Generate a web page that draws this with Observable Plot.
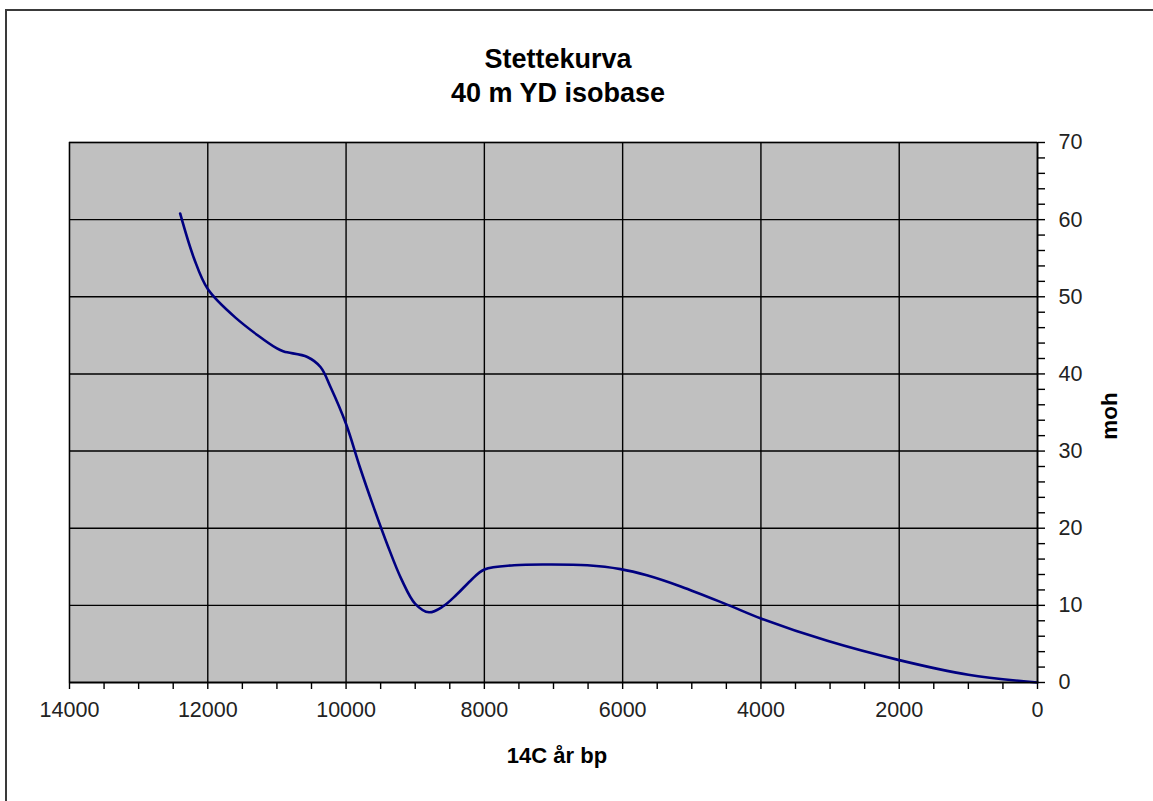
<!DOCTYPE html>
<html>
<head>
<meta charset="utf-8">
<script src="https://cdn.jsdelivr.net/npm/d3@7"></script>
<script src="https://cdn.jsdelivr.net/npm/@observablehq/plot@0.6"></script>
<style>
  html, body { margin: 0; padding: 0; background: #fff; overflow: hidden; }
  #wrap { position: relative; width: 1153px; height: 801px; }
  #border { position: absolute; left: 5px; top: 9px; width: 1300px; height: 1000px;
            border-left: 2px solid #3a3a3a; border-top: 2px solid #3a3a3a; pointer-events: none; z-index: 2; }
  #chart { position: absolute; left: 0; top: 0; z-index: 1; }
</style>
</head>
<body>
<div id="wrap"><div id="border"></div><div id="chart"></div></div>
<script>
// Data (14C years BP, metres above sea level)
const years   = [12400, 12200, 12000, 11600, 11000, 10900, 10560, 10370, 10225, 10000, 9800, 9600, 9400, 9200, 9000, 8800, 8600, 8400, 8200, 8000, 7570, 7090, 6510, 6030, 5650, 5160, 4490, 4000, 3040, 2000, 1000, 0];
const heights = [60.8, 55.0, 51.0, 47.3, 43.3, 42.9, 42.2, 40.9, 38.3, 33.5, 27.9, 22.7, 17.8, 13.4, 10.2, 9.1, 9.85, 11.4, 13.2, 14.65, 15.2, 15.3, 15.2, 14.7, 13.9, 12.45, 10.1, 8.3, 5.4, 2.9, 1.0, 0];
const xTicks = [0, 2000, 4000, 6000, 8000, 10000, 12000, 14000];
const xMinor = d3.range(0, 14001, 500);
const yTicks = [0, 10, 20, 30, 40, 50, 60, 70];
const yMinor = d3.range(0, 71, 2);
const titleLines = ["Stettekurva", "40 m YD isobase"];
const xLabel = "14C år bp";
const yLabel = "moh";

const data = years.map((x, i) => ({x, y: heights[i]}));
const font = "'Liberation Sans', Arial, sans-serif";

const svg = Plot.plot({
  width: 1153,
  height: 801,
  marginLeft: 69,
  marginRight: 116,
  marginTop: 142,
  marginBottom: 119,
  style: {fontFamily: font, background: "transparent", color: "#000", overflow: "visible"},
  x: {domain: [14000, 0], label: null},
  y: {domain: [0, 70], label: null},
  marks: [
    Plot.frame({fill: "#c0c0c0", stroke: "#808080", strokeWidth: 1.5}),
    Plot.gridX(xTicks, {stroke: "#000", strokeOpacity: 1, strokeWidth: 1.4}),
    Plot.gridY(yTicks, {stroke: "#000", strokeOpacity: 1, strokeWidth: 1.4}),
    Plot.line(data, {x: "x", y: "y", curve: "catmull-rom", stroke: "#000080", strokeWidth: 2.6}),
    Plot.ruleY([0], {stroke: "#000", strokeWidth: 1.5}),
    Plot.ruleX([0], {stroke: "#000", strokeWidth: 1.5}),
    Plot.axisX(xMinor, {anchor: "bottom", tickSize: 7, tickFormat: () => "", stroke: "#000", strokeWidth: 1.4, label: null}),
    Plot.axisX(xTicks, {anchor: "bottom", tickSize: 0, tickPadding: 19.5, fontSize: 21.5, fill: "#222", label: null, tickFormat: d => String(d)}),
    Plot.axisY(yMinor, {anchor: "right", tickSize: 7, tickFormat: () => "", stroke: "#000", strokeWidth: 1.4, label: null}),
    Plot.axisY(yTicks, {anchor: "right", tickSize: 0, tickPadding: 21, fontSize: 21.5, fill: "#222", label: null, tickFormat: d => String(d)})
  ]
});

const s = d3.select(svg);
const tg = s.append("g").attr("font-family", font).attr("font-weight", "bold").attr("fill", "#000").attr("text-anchor", "middle");
tg.append("text").attr("x", 558).attr("y", 68).attr("font-size", 27).text(titleLines[0]);
tg.append("text").attr("x", 558).attr("y", 101.5).attr("font-size", 27).text(titleLines[1]);
tg.append("text").attr("x", 557).attr("y", 763).attr("font-size", 22).text(xLabel);
tg.append("text").attr("transform", "translate(1117,416) rotate(-90)").attr("font-size", 22.5).text(yLabel);

document.getElementById("chart").appendChild(svg);
</script>
</body>
</html>
